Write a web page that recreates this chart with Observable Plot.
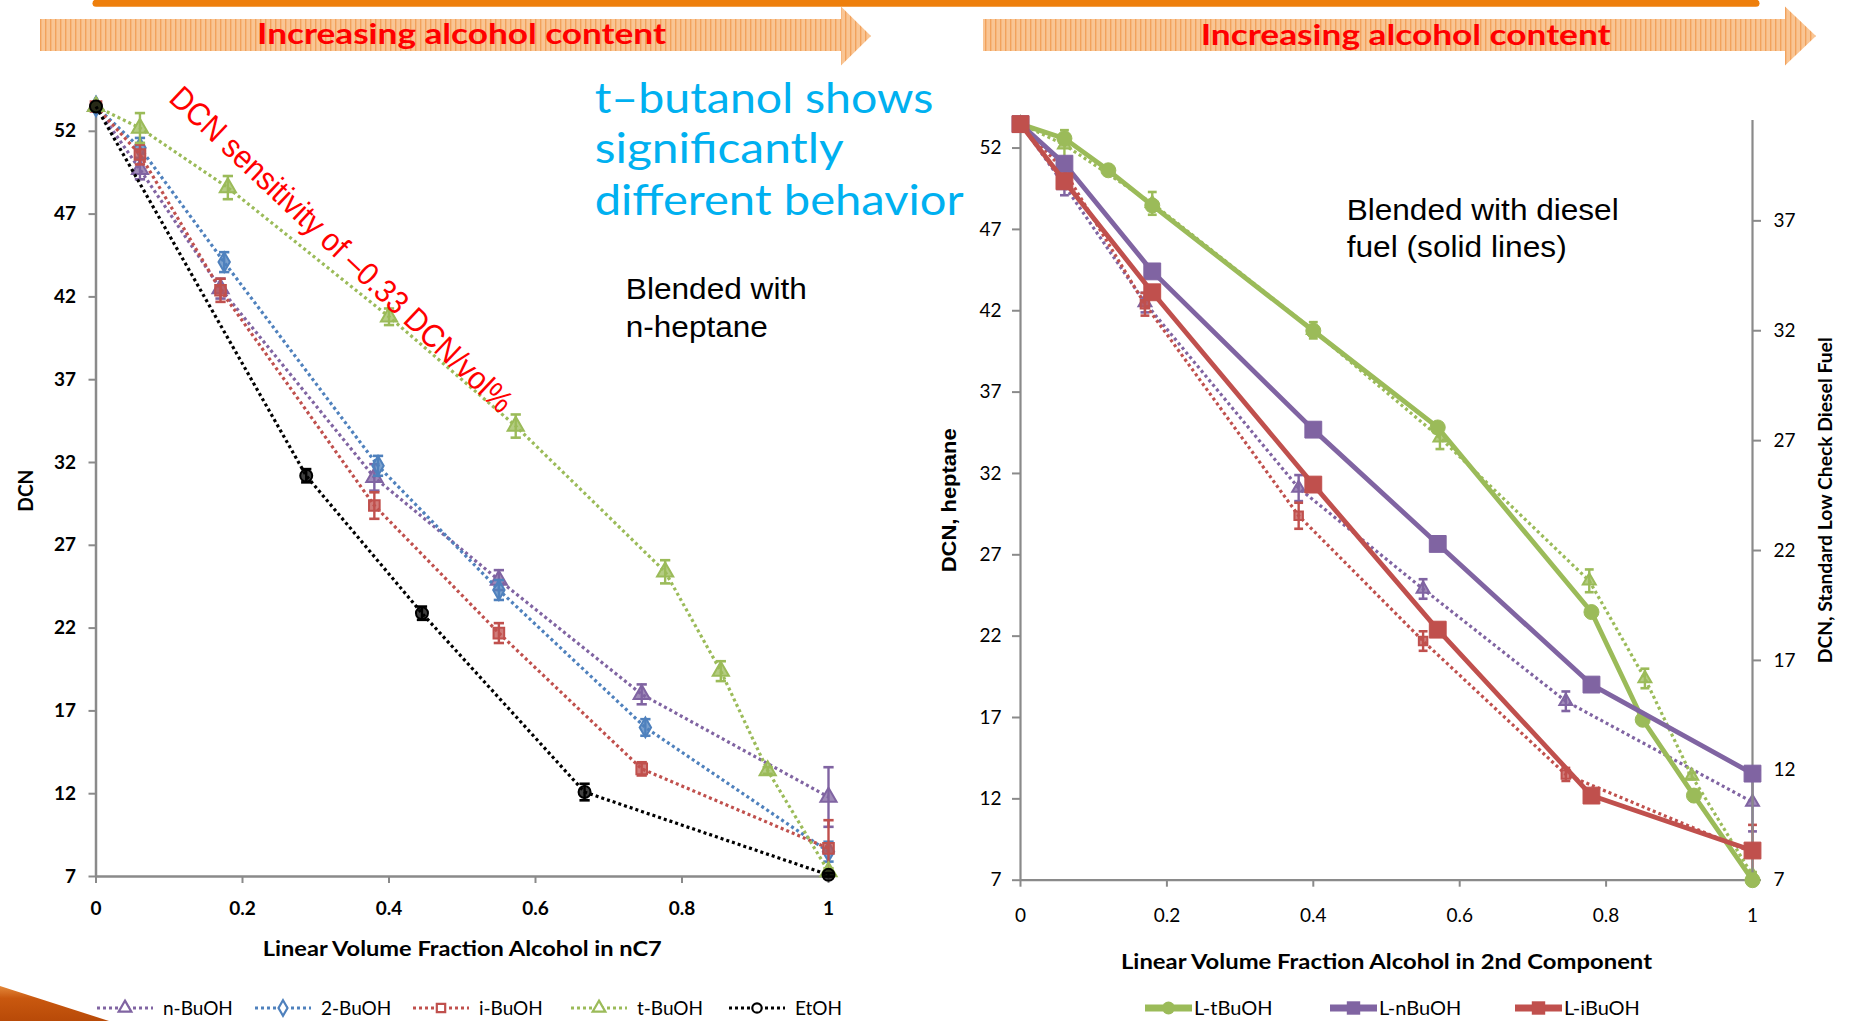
<!DOCTYPE html>
<html>
<head>
<meta charset="utf-8">
<script src="https://cdn.jsdelivr.net/npm/d3@7"></script>
<script src="https://cdn.jsdelivr.net/npm/@observablehq/plot@0.6"></script>
<style>
  html, body { margin: 0; padding: 0; background: #fff; }
  #page { position: relative; width: 1849px; height: 1021px; overflow: hidden; background: #fff; }
  #page > svg { position: absolute; left: 0; top: 0; }
</style>
</head>
<body>
<div id="page"></div>
<script>
// ---------- DCN of alcohol / n-heptane blends (vol. fraction alcohol) ----------
const fracNBu = [0, 0.06, 0.17, 0.38, 0.55, 0.745, 1.0];
const dcnNBu  = [53.5, 49.7, 42.5, 31.1, 24.9, 18.0, 11.8];
const errNBu  = [0, 0.6, 0.6, 0.8, 0.6, 0.6, 1.8];

const frac2Bu = [0, 0.06, 0.175, 0.385, 0.55, 0.75, 1.0];
const dcn2Bu  = [53.5, 51.0, 44.1, 31.8, 24.3, 16.0, 8.5];
const err2Bu  = [0, 0.6, 0.6, 0.6, 0.6, 0.5, 0.6];

const fracIBu = [0, 0.06, 0.17, 0.38, 0.55, 0.745, 1.0];
const dcnIBu  = [53.5, 50.6, 42.4, 29.4, 21.7, 13.5, 8.7];
const errIBu  = [0, 0.6, 0.7, 0.8, 0.6, 0.4, 1.7];

const fracTBu = [0, 0.06, 0.18, 0.40, 0.573, 0.777, 0.853, 0.917, 1.0];
const dcnTBu  = [53.5, 52.2, 48.6, 40.8, 34.2, 25.4, 19.4, 13.4, 7.3];
const errTBu  = [0, 0.9, 0.7, 0.5, 0.7, 0.7, 0.6, 0.2, 0.2];

const fracEtOH = [0, 0.287, 0.445, 0.667, 1.0];
const dcnEtOH  = [53.5, 31.2, 22.9, 12.1, 7.1];
const errEtOH  = [0, 0.4, 0.4, 0.5, 0.1];

// ---------- DCN of alcohol / low check diesel blends (secondary axis) ----------
const fracLT = [0, 0.06, 0.12, 0.18, 0.40, 0.57, 0.78, 0.85, 0.92, 1.0];
const dcnLT  = [41.4, 40.75, 39.3, 37.7, 32.0, 27.6, 19.2, 14.3, 10.85, 7.0];
const fracLN = [0, 0.06, 0.18, 0.40, 0.57, 0.78, 1.0];
const dcnLN  = [41.4, 39.6, 34.7, 27.5, 22.3, 15.9, 11.85];
const fracLI = [0, 0.06, 0.18, 0.40, 0.57, 0.78, 1.0];
const dcnLI  = [41.4, 38.8, 33.75, 25.0, 18.4, 10.85, 8.35];

// ---------- axis ticks ----------
const xTicks  = [0, 0.2, 0.4, 0.6, 0.8, 1];
const yTicks  = [7, 12, 17, 22, 27, 32, 37, 42, 47, 52];
const y2Ticks = [7, 12, 17, 22, 27, 32, 37];

const PURPLE = "#8064A2", BLUE = "#4F81BD", RED = "#C0504D", GREEN = "#9BBB59", BLACK = "#000000";
const AXIS = "#8A8A8A";
const FONT = "Lato, 'DejaVu Sans', sans-serif";
const fmt = d => `${d}`;

const nBu  = {name: "n-BuOH", frac: fracNBu, dcn: dcnNBu, err: errNBu, color: PURPLE, symbol: "triangle"};
const twoBu = {name: "2-BuOH", frac: frac2Bu, dcn: dcn2Bu, err: err2Bu, color: BLUE, symbol: "diamond"};
const iBu  = {name: "i-BuOH", frac: fracIBu, dcn: dcnIBu, err: errIBu, color: RED, symbol: "square"};
const tBu  = {name: "t-BuOH", frac: fracTBu, dcn: dcnTBu, err: errTBu, color: GREEN, symbol: "triangle"};
const etOH = {name: "EtOH", frac: fracEtOH, dcn: dcnEtOH, err: errEtOH, color: BLACK, symbol: "circle"};
const heptaneSeries = [nBu, twoBu, iBu, tBu, etOH];

const dieselSeries = [
  {name: "L-tBuOH", frac: fracLT, dcn: dcnLT, color: GREEN, symbol: "circle"},
  {name: "L-nBuOH", frac: fracLN, dcn: dcnLN, color: PURPLE, symbol: "square"},
  {name: "L-iBuOH", frac: fracLI, dcn: dcnLI, color: RED, symbol: "square"}
];

const rows = s => s.frac.map((f, i) => ({frac: f, dcn: s.dcn[i], err: s.err ? s.err[i] : 0}));

// horizontal cap drawn at the ends of each error bar
const cap = {draw(ctx, size) { const w = Math.sqrt(size); ctx.moveTo(-w / 2, 0); ctx.lineTo(w / 2, 0); }};

// dotted line + error bars + markers for one heptane blend series
function dotted(s, markR, capR) {
  const data = rows(s);
  const withErr = data.filter(d => d.err > 0);
  return [
    Plot.line(data, {x: "frac", y: "dcn", stroke: s.color, strokeWidth: 3.2, strokeDasharray: "3 3", strokeLinecap: "butt"}),
    Plot.ruleX(withErr, {x: "frac", y1: d => d.dcn - d.err, y2: d => d.dcn + d.err, stroke: s.color, strokeWidth: 2.4}),
    Plot.dot(withErr, {x: "frac", y: d => d.dcn + d.err, symbol: cap, r: capR, fill: "none", stroke: s.color, strokeWidth: 2.6}),
    Plot.dot(withErr, {x: "frac", y: d => d.dcn - d.err, symbol: cap, r: capR, fill: "none", stroke: s.color, strokeWidth: 2.6}),
    Plot.dot(data, {x: "frac", y: "dcn", symbol: s.symbol, r: markR, fill: s.color, fillOpacity: 0.75, stroke: s.color, strokeWidth: 2})
  ];
}

function solid(s) {
  const data = rows(s);
  return [
    Plot.line(data, {x: "frac", y: "dcn", stroke: s.color, strokeWidth: 4.8}),
    Plot.dot(data, {x: "frac", y: "dcn", symbol: s.symbol, r: s.symbol === "circle" ? 7.5 : 9.5, fill: s.color, stroke: s.color, strokeWidth: 1})
  ];
}

// stretch axis titles to their drawn lengths
function fitText(svg, lengths) {
  svg.querySelectorAll("text").forEach(t => {
    const L = lengths[t.textContent];
    if (L) { t.setAttribute("textLength", L); t.setAttribute("lengthAdjust", "spacingAndGlyphs"); }
  });
}

const page = document.getElementById("page");

// ---------- background decoration: banner line, arrows, corner wedge ----------
const decor = `
<svg width="1849" height="1021" viewBox="0 0 1849 1021" xmlns="http://www.w3.org/2000/svg">
  <defs>
    <pattern id="stripes" width="5" height="10" patternUnits="userSpaceOnUse">
      <rect width="5" height="10" fill="#F9C594"/>
      <rect width="1.4" height="10" fill="#F2A25C"/>
    </pattern>
    <linearGradient id="wedge" x1="0" y1="0" x2="0" y2="1">
      <stop offset="0" stop-color="#E3883A"/>
      <stop offset="0.35" stop-color="#C9580F"/>
      <stop offset="1" stop-color="#B84A08"/>
    </linearGradient>
  </defs>
  <line x1="96" y1="3.2" x2="1756" y2="3.2" stroke="#EE7F0C" stroke-width="7" stroke-linecap="round"/>
  <polygon points="40,19 841,19 841,6.5 871,36 841,65.5 841,51 40,51" fill="url(#stripes)"/>
  <polygon points="983,19 1785,19 1785,6.5 1816,36 1785,65.5 1785,51 983,51" fill="url(#stripes)"/>
  <text x="461.5" y="44" text-anchor="middle" font-family="Lato, sans-serif" font-weight="bold" font-size="29" fill="#FF0000"
        textLength="409" lengthAdjust="spacingAndGlyphs">Increasing alcohol content</text>
  <text x="1405.7" y="45" text-anchor="middle" font-family="Lato, sans-serif" font-weight="bold" font-size="29" fill="#FF0000"
        textLength="410" lengthAdjust="spacingAndGlyphs">Increasing alcohol content</text>
  <polygon points="0,986 109,1021 0,1021" fill="url(#wedge)"/>
</svg>`;
page.insertAdjacentHTML("beforeend", decor);

// ---------- left chart: blends with n-heptane ----------
const leftPlot = Plot.plot({
  width: 880, height: 1000,
  marginLeft: 95.5, marginRight: 52, marginTop: 104.3, marginBottom: 124,
  x: {domain: [0, 1]},
  y: {domain: [7, 53.6]},
  style: {background: "transparent", overflow: "visible", fontFamily: FONT, color: "#000"},
  marks: [
    Plot.axisX({ticks: xTicks, tickFormat: fmt, tickSize: 7, tickPadding: 18, stroke: AXIS, strokeWidth: 2,
                fill: "#000", fontSize: 19, fontWeight: "bold", label: null}),
    Plot.axisY({ticks: yTicks, tickFormat: fmt, tickSize: 7, tickPadding: 13, stroke: AXIS, strokeWidth: 2,
                fill: "#000", fontSize: 19, fontWeight: "bold", label: null}),
    Plot.ruleX([0], {stroke: AXIS, strokeWidth: 2.5}),
    Plot.ruleY([7], {stroke: AXIS, strokeWidth: 2.5}),
    ...heptaneSeries.flatMap(s => dotted(s, 6, 5.8)),
    Plot.text(["DCN"], {frameAnchor: "left", textAnchor: "middle", lineAnchor: "middle", rotate: -90, dx: -69.5,
                        fontSize: 21, fontWeight: "bold", fill: "#000"}),
    Plot.text(["Linear Volume Fraction Alcohol in nC7"], {frameAnchor: "bottom", textAnchor: "middle", lineAnchor: "middle",
                        dy: 73, fontSize: 21, fontWeight: "bold", fill: "#000"})
  ]
});
fitText(leftPlot, {"DCN": 42, "Linear Volume Fraction Alcohol in nC7": 399});
page.appendChild(leftPlot);

// ---------- right chart: heptane blends (dotted, primary axis) ----------
const rightPlot = Plot.plot({
  width: 949, height: 1000,
  marginLeft: 120, marginRight: 97, marginTop: 119.9, marginBottom: 120.3,
  x: {domain: [0, 1]},
  y: {domain: [7, 53.7]},
  style: {background: "transparent", overflow: "visible", fontFamily: FONT, color: "#000"},
  marks: [
    Plot.axisX({ticks: xTicks, tickFormat: fmt, tickSize: 7, tickPadding: 21, stroke: AXIS, strokeWidth: 2,
                fill: "#000", fontSize: 19, label: null}),
    Plot.axisY({ticks: yTicks, tickFormat: fmt, tickSize: 8, tickPadding: 11, stroke: AXIS, strokeWidth: 2,
                fill: "#000", fontSize: 19, label: null}),
    Plot.ruleX([0], {stroke: AXIS, strokeWidth: 2.2}),
    Plot.ruleY([7], {stroke: AXIS, strokeWidth: 2.2}),
    ...[nBu, iBu, tBu].flatMap(s => dotted(s, 4.8, 5)),
    Plot.text(["DCN, heptane"], {frameAnchor: "left", textAnchor: "middle", lineAnchor: "middle", rotate: -90, dx: -71,
                        fontFamily: "'Liberation Sans', Arial, sans-serif", fontSize: 20, fontWeight: "bold", fill: "#000"}),
    Plot.text(["Linear Volume Fraction Alcohol in 2nd Component"], {frameAnchor: "bottom", textAnchor: "middle", lineAnchor: "middle",
                        dy: 82, fontSize: 21, fontWeight: "bold", fill: "#000"})
  ]
});
fitText(rightPlot, {"DCN, heptane": 144, "Linear Volume Fraction Alcohol in 2nd Component": 531});
rightPlot.style.left = "900px";
page.appendChild(rightPlot);

// ---------- right chart: diesel blends (solid, secondary axis) ----------
const dieselPlot = Plot.plot({
  width: 949, height: 1000,
  marginLeft: 120, marginRight: 97, marginTop: 119.9, marginBottom: 120.3,
  x: {domain: [0, 1], axis: null},
  y: {domain: [7, 41.57]},
  style: {background: "transparent", overflow: "visible", fontFamily: FONT, color: "#000"},
  marks: [
    Plot.axisY({anchor: "right", ticks: y2Ticks, tickFormat: fmt, tickSize: 8, tickPadding: 13, stroke: AXIS, strokeWidth: 2,
                fill: "#000", fontSize: 19, label: null}),
    Plot.ruleX([1], {stroke: AXIS, strokeWidth: 2.2}),
    ...dieselSeries.flatMap(solid),
    Plot.text(["DCN, Standard Low Check Diesel Fuel"], {frameAnchor: "right", textAnchor: "middle", lineAnchor: "middle", rotate: -90, dx: 73,
                        fontSize: 19.5, fontWeight: "bold", fill: "#000"})
  ]
});
fitText(dieselPlot, {"DCN, Standard Low Check Diesel Fuel": 326});
dieselPlot.style.left = "900px";
page.appendChild(dieselPlot);

// ---------- callouts ----------
const notes = `
<svg width="1849" height="1021" viewBox="0 0 1849 1021" xmlns="http://www.w3.org/2000/svg" style="pointer-events:none">
  <g font-family="Lato, sans-serif" font-size="42" fill="#00B0F0">
    <text x="594.7" y="113.3" textLength="338.7" lengthAdjust="spacingAndGlyphs">t–butanol shows</text>
    <text x="594.7" y="163.3" textLength="249" lengthAdjust="spacingAndGlyphs">significantly</text>
    <text x="594.7" y="215" textLength="369" lengthAdjust="spacingAndGlyphs">different behavior</text>
  </g>
  <g font-family="'Liberation Sans', Arial, sans-serif" font-size="29" fill="#000">
    <text x="625.8" y="299.3" textLength="181" lengthAdjust="spacingAndGlyphs">Blended with</text>
    <text x="625.8" y="336.7" textLength="142" lengthAdjust="spacingAndGlyphs">n-heptane</text>
    <text x="1346.7" y="220" textLength="272" lengthAdjust="spacingAndGlyphs">Blended with diesel</text>
    <text x="1346.7" y="257" textLength="220" lengthAdjust="spacingAndGlyphs">fuel (solid lines)</text>
  </g>
  <text transform="translate(342,249) rotate(43.4)" dy="0.36em" text-anchor="middle"
        font-family="'Liberation Sans', Arial, sans-serif" font-size="32.5" fill="#FF0000"
        textLength="458" lengthAdjust="spacingAndGlyphs">DCN sensitivity of –0.33 DCN/vol%</text>
</svg>`;
page.insertAdjacentHTML("beforeend", notes);

// ---------- legends ----------
const legend = d3.create("svg").attr("width", 1849).attr("height", 1021).style("pointer-events", "none");

const leftItems = legend.append("g").selectAll("g").data(heptaneSeries).join("g")
  .attr("transform", (d, i) => `translate(${97 + i * 158},1008)`);
leftItems.append("line").attr("x1", 0).attr("x2", 56).attr("stroke", d => d.color)
  .attr("stroke-width", 3).attr("stroke-dasharray", "3 3");
leftItems.append("path").attr("transform", "translate(28,0)")
  .attr("d", d => d3.symbol(d.symbol === "triangle" ? d3.symbolTriangle : d.symbol === "diamond" ? d3.symbolDiamond
                          : d.symbol === "square" ? d3.symbolSquare : d3.symbolCircle, 70)())
  .attr("fill", "#fff").attr("stroke", d => d.color).attr("stroke-width", 2.2);
leftItems.append("text").attr("x", 66).attr("dy", "0.36em").attr("font-family", FONT).attr("font-size", 19)
  .text(d => d.name);

const rightItems = legend.append("g").selectAll("g").data(dieselSeries).join("g")
  .attr("transform", (d, i) => `translate(${1145 + i * 185},1008)`);
rightItems.append("line").attr("x1", 0).attr("x2", 47).attr("stroke", d => d.color).attr("stroke-width", 7);
rightItems.append("path").attr("transform", "translate(23.5,0)")
  .attr("d", d => d3.symbol(d.symbol === "circle" ? d3.symbolCircle : d3.symbolSquare, d.symbol === "circle" ? 130 : 180)())
  .attr("fill", d => d.color);
rightItems.append("text").attr("x", 49).attr("dy", "0.36em").attr("font-family", FONT).attr("font-size", 20)
  .text(d => d.name);

page.appendChild(legend.node());
</script>
</body>
</html>
